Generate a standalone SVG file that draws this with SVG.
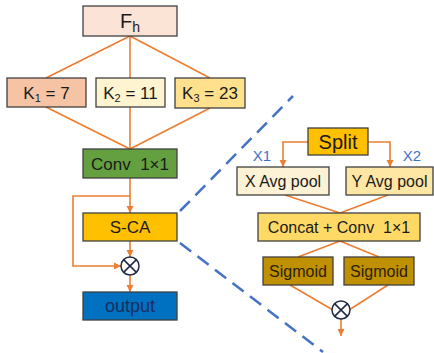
<svg xmlns="http://www.w3.org/2000/svg" width="434" height="353" viewBox="0 0 434 353">
<defs>
<marker id="arr" markerWidth="8" markerHeight="8" refX="7" refY="4" orient="auto" markerUnits="userSpaceOnUse">
<path d="M0,0.5 L7,4 L0,7.5 Z" fill="#ed7d31"/>
</marker>
<style>
.box{stroke:#404040;stroke-width:1.3}
.t{font-family:"Liberation Sans",Arial,sans-serif;font-size:16px;fill:#1a1a1a;text-anchor:middle}
.c{fill:none;stroke:#ed7d31;stroke-width:1.6}
.d{fill:none;stroke:#4472c4;stroke-width:2.5;stroke-dasharray:14 8}
.lbl{font-family:"Liberation Sans",Arial,sans-serif;font-size:15px;fill:#4472c4;text-anchor:middle}
.mul circle{fill:#fff;stroke:#1f2a44;stroke-width:1.5}
.mul line{stroke:#1f2a44;stroke-width:1.5}
</style>
</defs>
<rect width="434" height="353" fill="#fff"/>
<g id="connectors">
<line class="c" x1="130" y1="36" x2="46" y2="78"/>
<line class="c" x1="130" y1="36" x2="130" y2="78"/>
<line class="c" x1="130" y1="36" x2="210" y2="78"/>
<line class="c" x1="46" y1="107" x2="130" y2="149"/>
<line class="c" x1="130" y1="107" x2="130" y2="149"/>
<line class="c" x1="210" y1="108" x2="130" y2="149"/>
<line class="c" x1="130" y1="178" x2="130" y2="213" marker-end="url(#arr)"/>
<path class="c" d="M130,196 H73 V266 H121" marker-end="url(#arr)"/>
<line class="c" x1="130" y1="241" x2="130" y2="257" marker-end="url(#arr)"/>
<line class="c" x1="130" y1="275" x2="130" y2="292" marker-end="url(#arr)"/>
<path class="c" d="M308,142 H283 V167" marker-end="url(#arr)"/>
<path class="c" d="M368,142 H390 V167" marker-end="url(#arr)"/>
<line class="c" x1="285" y1="195" x2="340" y2="213"/>
<line class="c" x1="388" y1="195" x2="340" y2="213"/>
<line class="c" x1="340" y1="241" x2="298" y2="257"/>
<line class="c" x1="340" y1="241" x2="379" y2="257"/>
<line class="c" x1="290" y1="285" x2="333" y2="310"/>
<line class="c" x1="388" y1="285" x2="349" y2="310"/>
<line class="c" x1="341" y1="319" x2="341" y2="336" marker-end="url(#arr)"/>
<line class="d" x1="180" y1="211" x2="293" y2="96"/>
<line class="d" x1="180" y1="243" x2="323" y2="352"/>
</g>
<g id="Fh"><rect class="box" x="83" y="6" width="94" height="30" fill="#fbe3d6"/><text class="t" x="130" y="28" style="font-size:20px">F<tspan dy="4" style="font-size:14px">h</tspan></text></g>
<g id="K1"><rect class="box" x="7" y="78" width="79" height="29" fill="#f6c4a5"/><text class="t" x="46.5" y="99" style="font-size:17px">K<tspan dy="3" style="font-size:11px">1</tspan><tspan dy="-3"> = 7</tspan></text></g>
<g id="K2"><rect class="box" x="96" y="78" width="69" height="29" fill="#fef4d0"/><text class="t" x="130.5" y="99" style="font-size:17px">K<tspan dy="3" style="font-size:11px">2</tspan><tspan dy="-3"> = 11</tspan></text></g>
<g id="K3"><rect class="box" x="175" y="78" width="70" height="30" fill="#ffe08d"/><text class="t" x="210" y="99" style="font-size:17px">K<tspan dy="3" style="font-size:11px">3</tspan><tspan dy="-3"> = 23</tspan></text></g>
<g id="conv"><rect class="box" x="83" y="149" width="94" height="29" fill="#64a03f"/><text class="t" x="130" y="170" style="font-size:17px" xml:space="preserve">Conv  1×1</text></g>
<g id="sca"><rect class="box" x="83" y="213" width="94" height="28" fill="#ffc000"/><text class="t" x="130" y="233" style="font-size:17px">S-CA</text></g>
<g id="mul1" class="mul"><circle cx="130" cy="266" r="9"/><line x1="123.6" y1="259.6" x2="136.4" y2="272.4"/><line x1="136.4" y1="259.6" x2="123.6" y2="272.4"/></g>
<g id="output"><rect class="box" x="83" y="292" width="94" height="28" fill="#0070c0"/><text class="t" x="130" y="312" style="fill:#1b2d5c;font-size:18px">output</text></g>
<g id="split"><rect class="box" x="308" y="128" width="60" height="27" fill="#ffc000"/><text class="t" x="338" y="149" style="font-size:20px">Split</text></g>
<g id="x1"><text class="lbl" x="262" y="161">X1</text></g>
<g id="x2"><text class="lbl" x="412" y="161">X2</text></g>
<g id="xpool"><rect class="box" x="237" y="167" width="92" height="28" fill="#fdf1d6"/><text class="t" x="283" y="187" style="font-size:16px">X Avg pool</text></g>
<g id="ypool"><rect class="box" x="346" y="167" width="87" height="28" fill="#fee6a5"/><text class="t" x="389.5" y="187" style="font-size:16px">Y Avg pool</text></g>
<g id="concat"><rect class="box" x="258" y="213" width="162" height="28" fill="#ffd966"/><text class="t" x="339" y="233" style="font-size:16px" xml:space="preserve">Concat + Conv  1×1</text></g>
<g id="sig1"><rect class="box" x="263" y="257" width="70" height="28" fill="#bf9000"/><text class="t" x="298" y="277" style="font-size:16px;fill:#2b2000">Sigmoid</text></g>
<g id="sig2"><rect class="box" x="344" y="257" width="70" height="28" fill="#bf9000"/><text class="t" x="379" y="277" style="font-size:16px;fill:#2b2000">Sigmoid</text></g>
<g id="mul2" class="mul"><circle cx="341" cy="310" r="9"/><line x1="334.6" y1="303.6" x2="347.4" y2="316.4"/><line x1="347.4" y1="303.6" x2="334.6" y2="316.4"/></g>
</svg>
